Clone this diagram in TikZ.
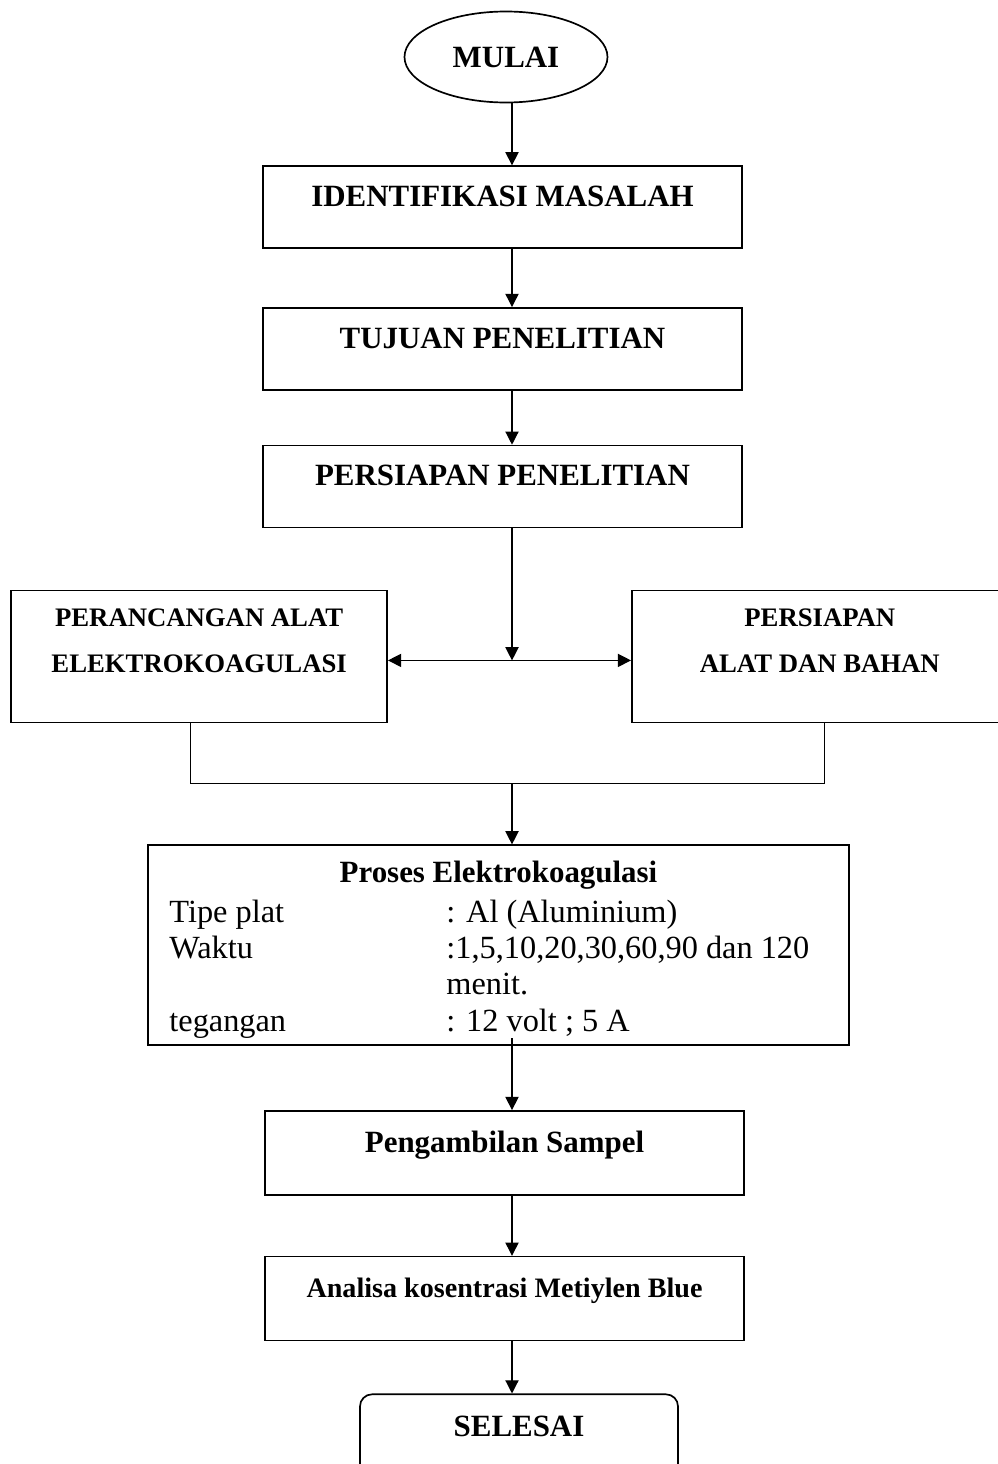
\documentclass[tikz,border=0pt]{standalone}
\usepackage{fontspec}
\setmainfont{Liberation Serif}
\usetikzlibrary{arrows.meta, positioning, shapes.geometric, calc}

\begin{document}
\begin{tikzpicture}[
            node distance=14mm,
            kotak/.style={rectangle, draw, line width=1.2pt,
                          minimum width=11.975cm, minimum height=2.05cm,
                          text depth=0.55cm, align=center,
                          font=\fontsize{22}{26}\selectfont\bfseries},
            sisi/.style={rectangle, draw, line width=1.2pt,
                         minimum width=9.4cm, minimum height=3.3cm,
                         text depth=0.77cm, align=center,
                         font=\fontsize{19}{32.7}\selectfont\bfseries},
            panah/.style={-{Triangle[length=3.3mm, width=3.3mm]}, line width=0.9pt},
            panahdua/.style={{Triangle[length=3.3mm, width=3.3mm]}-{Triangle[length=3.3mm, width=3.3mm]}, line width=0.9pt},
            garis/.style={line width=0.9pt},
        ]
            \useasboundingbox (0,0) rectangle (24.925,-36.6);
            \coordinate (sumbu) at (12.8,0);

            \node[ellipse, draw, line width=1.2pt, minimum width=5.075cm, minimum height=2.275cm,
                  inner sep=0pt, font=\fontsize{22}{26}\selectfont\bfseries] (mulai) at (12.65,-1.425) {MULAI};
            \node[kotak, below=1.55cm of mulai, xshift=-0.0875cm] (masalah) {IDENTIFIKASI MASALAH};
            \node[kotak, below=1.45cm of masalah] (tujuan) {TUJUAN PENELITIAN};
            \node[kotak, below=1.35cm of tujuan] (persiapan) {PERSIAPAN PENELITIAN};

            \coordinate (cabang) at ($(persiapan.south -| sumbu)+(0,-3.3)$);
            \node[sisi, left=3.1cm of cabang, yshift=0.1cm] (rancang) {PERANCANGAN ALAT\\ELEKTROKOAGULASI};
            \node[sisi, right=2.975cm of cabang, yshift=0.1cm] (alat) {PERSIAPAN\\ALAT DAN BAHAN};
            \coordinate (gabung) at ($(rancang.south)+(-0.225,-1.5)$);

            \node[rectangle, draw, line width=1.2pt, minimum width=17.525cm, minimum height=5cm,
                  below=7.9cm of persiapan, xshift=-0.1cm] (proses) {};
            \begin{scope}
                \clip (proses.north west) rectangle (proses.south east);
                \node[anchor=base, font=\fontsize{22}{26}\selectfont\bfseries] (judul)
                    at ($(proses.north)+(0,-0.95)$) {Proses Elektrokoagulasi};
                \node[anchor=base west, inner sep=0pt, font=\fontsize{23}{25.8}\selectfont] (rincian)
                    at ($(proses.north west)+(0.55,-1.95)$)
                    {\begin{tabular}[t]{@{}p{6.925cm}@{}l@{}}
                        Tipe plat & : Al (Aluminium)\\
                        Waktu & :1,5,10,20,30,60,90 dan 120\\
                         & menit.\\
                        tegangan & : 12 volt ; 5 A
                    \end{tabular}};
            \end{scope}

            \node[kotak, minimum height=2.1cm, below=1.6cm of proses, xshift=0.15cm] (sampel) {Pengambilan Sampel};
            \node[kotak, minimum height=2.1cm, below=1.5cm of sampel,
                  font=\fontsize{20}{24}\selectfont\bfseries] (analisa) {Analisa kosentrasi Metiylen Blue};
            \node[kotak, rounded corners=0.3cm, minimum width=7.95cm, minimum height=2.125cm,
                  below=1.3cm of analisa, xshift=0.3625cm] (selesai) {SELESAI};

            \draw[panah] (mulai.south -| sumbu) -- (masalah.north -| sumbu);
            \draw[panah] (masalah.south -| sumbu) -- (tujuan.north -| sumbu);
            \draw[panah] (tujuan.south -| sumbu) -- (persiapan.north -| sumbu);
            \draw[panah] (persiapan.south -| sumbu) -- (cabang);
            \draw[panahdua] (rancang.east |- cabang) -- (alat.west |- cabang);
            \draw[garis] ([xshift=-0.225cm]rancang.south) -- (gabung) -| ([xshift=0.125cm]alat.south);
            \draw[panah] (gabung -| sumbu) -- (proses.north -| sumbu);
            \draw[panah] ($(proses.south -| sumbu)+(0,0.2)$) -- (sampel.north -| sumbu);
            \draw[panah] (sampel.south -| sumbu) -- (analisa.north -| sumbu);
            \draw[panah] (analisa.south -| sumbu) -- (selesai.north -| sumbu);
        \end{tikzpicture}
\end{document}
